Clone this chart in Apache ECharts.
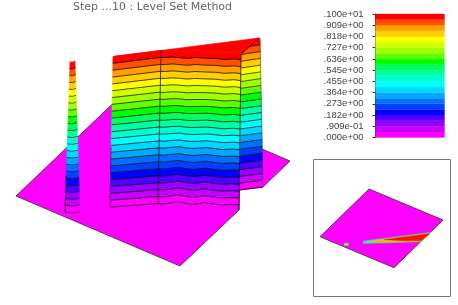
<!DOCTYPE html>
<html>
<head>
<meta charset="utf-8">
<style>html,body{margin:0;padding:0;background:#fff}#c{width:458px;height:305px}</style>
<script src="https://cdn.jsdelivr.net/npm/echarts@6/dist/echarts.min.js"></script>
</head>
<body>
<div id="c"></div>
<script>
// Title and colour scale
var titleText = 'Step ...10 : Level Set Method';
var tickLabels = ['.000e+00','.909e-01','.182e+00','.273e+00','.364e+00','.455e+00','.545e+00','.636e+00','.727e+00','.818e+00','.909e+00','.100e+01'];
var bandColors = ['#ff00ff','#c800ff','#9800ff','#5000ff','#0000ff','#0040ff','#0070ff','#00a8ff','#00d8ff','#00ffff','#00ffd0',
                  '#00ffa0','#00ff60','#00ff00','#60ff00','#a0ff00','#d0ff00','#ffff00','#ffd000','#ffa000','#ff5000','#ff0000'];

// Flat plate outline, main view
var plateX = [16,180,239,239,263,290,126];
var plateY = [196,266,210,190,187,161,91];

// Wall rows: ground line (level 0) and crest (level 22), main view
var leftBaseX = [110,158];    var leftBaseY = [207,203.5];
var leftTopX  = [113,161];    var leftTopY  = [56.5,50.4];
var midBaseX = [158,163,170,178,185,192,199,205,213,222,232,239];
var midBaseY = [203.5,204,203,201.5,203,204.5,203.5,202.5,204,205,204.5,205];
var midTopX  = [161,166,173,181,188,195,202,208,216,225,235,241];
var midTopY  = [50.6,50.5,50,51,51.5,50.5,51,51.5,51.5,52.5,52,53];
var rightBaseX = [239,263];   var rightBaseY = [190,187];
var rightTopX  = [241,260];   var rightTopY  = [41,38];
// Thin column
var colBaseX = [65,72,80];    var colBaseY = [212,213,212];
var colTopX  = [70,72.5,75];  var colTopY  = [62,62,61];
// Flat crest of the wall
var capX = [113,259,241];     var capY = [56.5,38,54];

// Inset plan view
var insetFrameX = [313.5,450.5,450.5,313.5];
var insetFrameY = [159.5,159.5,296.5,296.5];
var insetPlateX = [320,394,443,369];
var insetPlateY = [236.7,267.7,220,189];
var wedgeOuterX = [363,431,421,363];   var wedgeOuterY = [241,232.3,241.8,243.6];
var wedgeGreenX = [366,430.5,421,366];   var wedgeGreenY = [241.6,233,241.5,243];
var wedgeYellowX = [374,430,421,374];  var wedgeYellowY = [240.6,233.4,241.2,242];
var wedgeRedX = [384,430,421,402]; var wedgeRedY = [239.6,233.6,240.8,240.8];
var dotOuterX = [344,348.5,348.5,344]; var dotOuterY = [243,243,245.8,245.8];
var dotInnerX = [345,347.5,347.5,345]; var dotInnerY = [243.8,243.8,245,245];

var N = bandColors.length;
var marks = [];
function zip(xs, ys) { return xs.map(function (x, i) { return [x, ys[i]]; }); }
function row(bx, by, tx, ty, k) {
  return bx.map(function (x, i) {
    return [x + (tx[i] - x) * k / N, by[i] + (ty[i] - by[i]) * k / N];
  });
}
function addWall(bx, by, tx, ty, lineAlpha) {
  for (var k = 0; k < N; k++) {
    var lo = row(bx, by, tx, ty, k), hi = row(bx, by, tx, ty, k + 1);
    marks.push({ pts: lo.concat(hi.slice().reverse()), fill: bandColors[k], stroke: bandColors[k], w: 0.6 });
  }
  for (var j = 0; j < N; j++) {
    marks.push({ pts: row(bx, by, tx, ty, j), stroke: 'rgba(0,0,0,' + lineAlpha + ')', w: 1, open: true });
  }
}

// plate
marks.push({ pts: zip(plateX, plateY), fill: '#ff00ff', stroke: '#5a3a5a', w: 1 });
// walls back to front
addWall(rightBaseX, rightBaseY, rightTopX, rightTopY, 0.65);
marks.push({ pts: [[rightBaseX[1], rightBaseY[1]], [rightTopX[1], rightTopY[1] + 2]], stroke: 'rgba(70,70,70,.55)', w: 1, open: true });
addWall(midBaseX, midBaseY, midTopX, midTopY, 0.7);
addWall(leftBaseX, leftBaseY, leftTopX, leftTopY, 0.7);
// crest
marks.push({
  pts: zip(capX, capY).concat(zip(midTopX, midTopY).reverse()),
  fill: '#ff0000', stroke: '#ff0000', w: 0.6
});
// column
addWall(colBaseX, colBaseY, colTopX, colTopY, 0.6);
// dark edges
marks.push({ pts: [[midBaseX[0], midBaseY[0]], [midTopX[0], midTopY[0]]], stroke: 'rgba(20,20,20,.8)', w: 1, open: true });
marks.push({ pts: [[plateX[2], plateY[2]], [midTopX[11], midTopY[11] + 1]], stroke: 'rgba(20,20,20,.8)', w: 1, open: true });
marks.push({ pts: [[capX[1], capY[1]], [capX[2], capY[2]]], stroke: 'rgba(60,0,0,.8)', w: 1, open: true });
marks.push({ pts: [[leftBaseX[0], leftBaseY[0]], [leftBaseX[0] + 1, leftBaseY[0] - 60]], stroke: 'rgba(40,0,60,.55)', w: 1, open: true });
marks.push({ pts: [[colBaseX[0], colBaseY[0]], [colBaseX[0] + 1.2, colBaseY[0] - 36]], stroke: 'rgba(20,0,40,.8)', w: 1, open: true });
// inset
marks.push({ pts: zip(insetFrameX, insetFrameY), fill: '#ffffff', stroke: '#777777', w: 1 });
marks.push({ pts: zip(insetPlateX, insetPlateY), fill: '#ff00ff', stroke: '#5a3a5a', w: 1 });
marks.push({ pts: zip(wedgeOuterX, wedgeOuterY), fill: '#30d8d0', stroke: '#30d8d0', w: 0.3 });
marks.push({ pts: zip(wedgeGreenX, wedgeGreenY), fill: '#70f040', stroke: '#70f040', w: 0.3 });
marks.push({ pts: zip(wedgeYellowX, wedgeYellowY), fill: '#ffb000', stroke: '#ffb000', w: 0.3 });
marks.push({ pts: zip(wedgeRedX, wedgeRedY), fill: '#ff1000', stroke: '#ff1000', w: 0.3 });
marks.push({ pts: zip(dotOuterX, dotOuterY), fill: '#70d090', stroke: '#70d090', w: 0.3 });
marks.push({ pts: zip(dotInnerX, dotInnerY), fill: '#d0e000', stroke: '#d0e000', w: 0.3 });

var chart = echarts.init(document.getElementById('c'), null, { renderer: 'canvas' });
chart.setOption({
  animation: false,
  backgroundColor: '#ffffff',
  title: {
    text: titleText, left: 73, top: 2, padding: 0,
    textStyle: { fontFamily: 'DejaVu Sans', fontSize: 11, fontWeight: 'normal', color: '#666666' }
  },
  grid: [
    { left: 0, top: 0, width: 458, height: 305, show: false },
    { left: 375.5, top: 14, width: 69, height: 123.5, show: false }
  ],
  xAxis: [
    { gridIndex: 0, type: 'value', min: 0, max: 458, show: false },
    { gridIndex: 1, type: 'value', min: 0, max: 1, show: false }
  ],
  yAxis: [
    { gridIndex: 0, type: 'value', min: 0, max: 305, inverse: true, show: false },
    {
      gridIndex: 1, type: 'value', min: 0, max: 22, interval: 2,
      splitLine: { show: false },
      axisLine: { show: true, onZero: false, lineStyle: { color: '#333333', width: 1 } },
      axisTick: { show: true, length: 3, lineStyle: { color: '#333333' } },
      axisLabel: {
        margin: 12, fontFamily: 'Liberation Sans', fontSize: 9.5, color: '#444444',
        formatter: function (v) { return tickLabels[Math.round(v / 2)]; }
      }
    }
  ],
  series: [
    {
      type: 'custom', coordinateSystem: 'cartesian2d', xAxisIndex: 0, yAxisIndex: 0,
      silent: true, clip: false,
      data: marks.map(function (m, i) { return [i]; }),
      encode: { x: 0 },
      renderItem: function (params, api) {
        var m = marks[api.value(0)];
        var pts = m.pts.map(function (p) { return api.coord(p); });
        return {
          type: m.open ? 'polyline' : 'polygon',
          shape: { points: pts },
          style: { fill: m.open ? null : (m.fill || null), stroke: m.stroke, lineWidth: m.w }
        };
      }
    },
    {
      type: 'custom', coordinateSystem: 'cartesian2d', xAxisIndex: 1, yAxisIndex: 1,
      silent: true, clip: false,
      data: bandColors.map(function (c, i) { return [i]; }),
      encode: { y: 0 },
      renderItem: function (params, api) {
        var k = api.value(0);
        var a = api.coord([0, k + 1]), b = api.coord([1, k]);
        return {
          type: 'rect',
          shape: { x: a[0], y: a[1], width: b[0] - a[0], height: b[1] - a[1] },
          style: { fill: bandColors[k], stroke: bandColors[k], lineWidth: 0.3 }
        };
      }
    }
  ]
});
</script>
</body>
</html>
